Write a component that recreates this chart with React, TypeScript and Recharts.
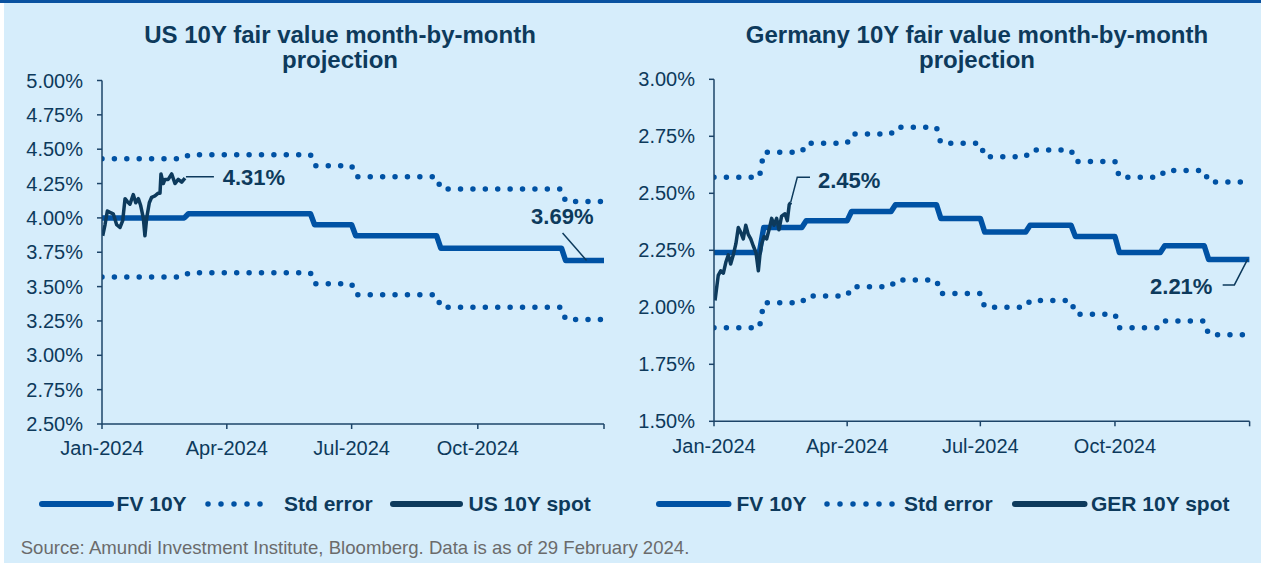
import React from 'react';
import { Line, LineChart, ReferenceDot, XAxis, YAxis } from 'recharts';

// day-of-year where each month of 2024 starts (last entry = 1 Jan 2025)
const MONTH_START_DAYS = [0, 31, 60, 91, 121, 152, 182, 213, 244, 274, 305, 335, 366];
const X_TICKS = [0, 91, 182, 274, 366];
const X_TICK_LABELS = ['Jan-2024', 'Apr-2024', 'Jul-2024', 'Oct-2024', ''];

const US_Y_TICKS = [2.5, 2.75, 3, 3.25, 3.5, 3.75, 4, 4.25, 4.5, 4.75, 5];
const GER_Y_TICKS = [1.5, 1.75, 2, 2.25, 2.5, 2.75, 3];

// monthly fair value projections, Jan..Dec
const US_FV = [4.0, 4.0, 4.03, 4.03, 4.03, 3.95, 3.87, 3.87, 3.78, 3.78, 3.78, 3.69];
const US_STD_UPPER = [4.43, 4.43, 4.46, 4.46, 4.46, 4.38, 4.3, 4.3, 4.21, 4.21, 4.21, 4.12];
const US_STD_LOWER = [3.57, 3.57, 3.6, 3.6, 3.6, 3.52, 3.44, 3.44, 3.35, 3.35, 3.35, 3.26];

const GER_FV = [2.24, 2.35, 2.38, 2.42, 2.45, 2.39, 2.33, 2.36, 2.31, 2.24, 2.27, 2.21];
const GER_STD_UPPER = [2.57, 2.68, 2.72, 2.76, 2.79, 2.72, 2.66, 2.69, 2.64, 2.57, 2.6, 2.55];
const GER_STD_LOWER = [1.91, 2.02, 2.05, 2.09, 2.12, 2.06, 2.0, 2.03, 1.97, 1.91, 1.94, 1.88];

// spot yields, Jan - Feb 2024
const US_SPOT_DAYS = [0.5, 2.2, 3.9, 5.8, 8.2, 10.7, 13.1, 15.1, 16.8, 18.4, 20.4, 22.8, 24.6, 26.5, 28.2, 30.1,
  31.3, 32.6, 34.5, 36.2, 38.6, 41, 42.3, 43, 44.7, 45.9, 48.3, 50.8, 53.2, 55.6, 58.1, 60.5];
const US_SPOT = [3.87, 3.95, 4.05, 4.04, 4.03, 3.95, 3.93, 3.98, 4.14, 4.12, 4.1, 4.17, 4.11, 4.14, 4.09, 4.0,
  3.87, 4.0, 4.11, 4.15, 4.16, 4.18, 4.18, 4.32, 4.25, 4.28, 4.28, 4.32, 4.25, 4.28, 4.26, 4.29];

const GER_SPOT_DAYS = [0.7, 2.9, 4.6, 6.4, 8.2, 9.8, 11.4, 13.2, 15, 16.6, 18.2, 20, 21.7, 23.4, 25.1, 26.8,
  28.7, 30.3, 31.4, 32.6, 34.2, 36, 37.6, 39.4, 41, 42.8, 44.4, 46.2, 48.5, 50.1, 51.4, 52.4];
const GER_SPOT = [2.03, 2.14, 2.16, 2.15, 2.2, 2.23, 2.19, 2.23, 2.28, 2.35, 2.33, 2.3, 2.36, 2.32, 2.3, 2.27,
  2.24, 2.16, 2.23, 2.28, 2.31, 2.3, 2.34, 2.39, 2.36, 2.39, 2.34, 2.4, 2.41, 2.38, 2.45, 2.46];

// callouts (data space)
const US_LEADERS = [
  [{ day: 61.2, v: 4.3 }, { day: 81.6, v: 4.3 }],
  [{ day: 335.8, v: 3.89 }, { day: 353.3, v: 3.69 }],
];
const US_CALLOUTS = [
  { day: 88, v: 4.293, text: '4.31%', anchor: 'start' },
  { day: 335.6, v: 4.007, text: '3.69%', anchor: 'middle' },
];
const GER_LEADERS = [
  [{ day: 52.4, v: 2.46 }, { day: 56.9, v: 2.57 }, { day: 65.6, v: 2.57 }],
  [{ day: 364.7, v: 2.211 }, { day: 355.6, v: 2.098 }, { day: 347.6, v: 2.098 }],
];
const GER_CALLOUTS = [
  { day: 71, v: 2.558, text: '2.45%', anchor: 'start' },
  { day: 340.6, v: 2.093, text: '2.21%', anchor: 'end' },
];

const FONT = '"Liberation Sans", Arial, sans-serif';
const NAVY = '#0d3a5c';
const BLUE = '#0052a4';
const AXIS = '#1d4468';
const BG = '#d6edfb';

const RAMP_DAYS = 3;
const monthlySteps = (values: number[]) =>
  values.flatMap((v, i) => [
    { day: i === 0 ? 0 : MONTH_START_DAYS[i] + RAMP_DAYS, v },
    { day: MONTH_START_DAYS[i + 1], v },
  ]);

const toPoints = (days: number[], values: number[]) => days.map((day, i) => ({ day, v: values[i] }));

type Callout = { day: number; v: number; text: string; anchor: string };

type PanelProps = {
  width: number;
  yAxisWidth: number;
  margin: { top: number; right: number; bottom: number; left: number };
  yDomain: [number, number];
  yTicks: number[];
  fv: number[];
  upper: number[];
  lower: number[];
  spotDays: number[];
  spot: number[];
  leaders: { day: number; v: number }[][];
  callouts: Callout[];
};

function YieldPanel({ width, yAxisWidth, margin, yDomain, yTicks, fv, upper, lower, spotDays, spot, leaders, callouts }: PanelProps) {
  const axisLine = { stroke: AXIS, strokeWidth: 1.5 };
  const tick = { fill: NAVY, fontSize: 20, fontFamily: FONT };
  return (
    <LineChart width={width} height={480} margin={margin}>
      <XAxis
        type='number'
        dataKey='day'
        domain={[0, 366]}
        ticks={X_TICKS}
        interval={0}
        allowDataOverflow
        tickFormatter={(d) => X_TICK_LABELS[X_TICKS.indexOf(d)] ?? ''}
        height={50}
        tickSize={5}
        tickMargin={12}
        axisLine={axisLine}
        tickLine={axisLine}
        tick={tick}
      />
      <YAxis
        type='number'
        domain={yDomain}
        ticks={yTicks}
        interval={0}
        allowDataOverflow
        tickFormatter={(v) => `${Number(v).toFixed(2)}%`}
        width={yAxisWidth}
        tickSize={5}
        tickMargin={14}
        axisLine={axisLine}
        tickLine={axisLine}
        tick={tick}
      />

      {/* std error bands, drawn as round dots */}
      {[upper, lower].map((band, i) => (
        <Line
          key={`std-${i}`}
          data={monthlySteps(band)}
          dataKey='v'
          stroke={BLUE}
          strokeWidth={5.5}
          strokeDasharray='0 12.4'
          strokeLinecap='round'
          dot={false}
          activeDot={false}
          isAnimationActive={false}
        />
      ))}

      <Line
        data={monthlySteps(fv)}
        dataKey='v'
        stroke={BLUE}
        strokeWidth={5.5}
        strokeLinejoin='round'
        dot={false}
        activeDot={false}
        isAnimationActive={false}
      />

      <Line
        data={toPoints(spotDays, spot)}
        dataKey='v'
        stroke={NAVY}
        strokeWidth={3.5}
        strokeLinejoin='round'
        dot={false}
        activeDot={false}
        isAnimationActive={false}
      />

      {leaders.map((pts, i) => (
        <Line
          key={`leader-${i}`}
          data={pts}
          dataKey='v'
          stroke={NAVY}
          strokeWidth={1.5}
          dot={false}
          activeDot={false}
          isAnimationActive={false}
        />
      ))}

      {callouts.map((c) => (
        <ReferenceDot
          key={c.text}
          x={c.day}
          y={c.v}
          r={0}
          shape={(p: any) => (
            <text
              x={p.cx}
              y={p.cy}
              textAnchor={c.anchor as any}
              dominantBaseline='central'
              fill={NAVY}
              fontSize={22}
              fontWeight='bold'
              fontFamily={FONT}
            >
              {c.text}
            </text>
          )}
        />
      ))}
    </LineChart>
  );
}

type LegendItem = { kind: 'line' | 'dots' | 'spot'; x: number; w: number; textX: number; label: string };

const US_LEGEND: LegendItem[] = [
  { kind: 'line', x: 41.5, w: 69, textX: 116.6, label: 'FV 10Y' },
  { kind: 'dots', x: 207.6, w: 65, textX: 284, label: 'Std error' },
  { kind: 'spot', x: 393.4, w: 67, textX: 468.6, label: 'US 10Y spot' },
];
const GER_LEGEND: LegendItem[] = [
  { kind: 'line', x: 658.8, w: 69.5, textX: 736.5, label: 'FV 10Y' },
  { kind: 'dots', x: 826.5, w: 65.5, textX: 904, label: 'Std error' },
  { kind: 'spot', x: 1014.5, w: 69.5, textX: 1091, label: 'GER 10Y spot' },
];

function LegendRow({ items }: { items: LegendItem[] }) {
  return (
    <>
      {items.map((it) => (
        <React.Fragment key={it.label}>
          <svg style={{ position: 'absolute', left: it.x - 4, top: 496 }} width={it.w + 8} height={16}>
            <line
              x1={4}
              x2={it.w + 4}
              y1={8}
              y2={8}
              stroke={it.kind === 'spot' ? NAVY : BLUE}
              strokeWidth={it.kind === 'dots' ? 5.5 : 6}
              strokeLinecap='round'
              strokeDasharray={it.kind === 'dots' ? '0 13' : undefined}
            />
          </svg>
          <div
            style={{
              position: 'absolute',
              left: it.textX,
              top: 492,
              lineHeight: '24px',
              fontSize: 21,
              fontWeight: 'bold',
              color: NAVY,
              fontFamily: FONT,
              whiteSpace: 'nowrap',
            }}
          >
            {it.label}
          </div>
        </React.Fragment>
      ))}
    </>
  );
}

const titleStyle: React.CSSProperties = {
  position: 'absolute',
  top: 22,
  width: 500,
  textAlign: 'center',
  fontFamily: FONT,
  fontSize: 24,
  lineHeight: '25px',
  fontWeight: 'bold',
  color: NAVY,
};

export default function App() {
  return (
    <div style={{ position: 'absolute', left: 0, top: 0, width: 1261, height: 564, background: '#ffffff', overflow: 'hidden' }}>
      <div style={{ position: 'absolute', left: 4, top: 0, width: 1257, height: 563, background: BG }} />
      <div style={{ position: 'absolute', left: 0, top: 0, width: 1261, height: 3, background: '#0a52a0' }} />

      <div style={{ ...titleStyle, left: 90 }}>
        US 10Y fair value month-by-month
        <br />
        projection
      </div>
      <div style={{ ...titleStyle, left: 727 }}>
        Germany 10Y fair value month-by-month
        <br />
        projection
      </div>

      <div style={{ position: 'absolute', left: 0, top: 0 }}>
        <YieldPanel
          width={620}
          yAxisWidth={102}
          margin={{ top: 80.5, right: 16, bottom: 6, left: 0 }}
          yDomain={[2.5, 5]}
          yTicks={US_Y_TICKS}
          fv={US_FV}
          upper={US_STD_UPPER}
          lower={US_STD_LOWER}
          spotDays={US_SPOT_DAYS}
          spot={US_SPOT}
          leaders={US_LEADERS}
          callouts={US_CALLOUTS}
        />
      </div>
      <div style={{ position: 'absolute', left: 620, top: 0 }}>
        <YieldPanel
          width={641}
          yAxisWidth={94}
          margin={{ top: 79.3, right: 11.4, bottom: 8.7, left: 0 }}
          yDomain={[1.5, 3]}
          yTicks={GER_Y_TICKS}
          fv={GER_FV}
          upper={GER_STD_UPPER}
          lower={GER_STD_LOWER}
          spotDays={GER_SPOT_DAYS}
          spot={GER_SPOT}
          leaders={GER_LEADERS}
          callouts={GER_CALLOUTS}
        />
      </div>

      <LegendRow items={US_LEGEND} />
      <LegendRow items={GER_LEGEND} />

      <div
        style={{
          position: 'absolute',
          left: 20.7,
          top: 537,
          fontFamily: FONT,
          fontSize: 18.6,
          lineHeight: '22px',
          color: '#6b6b6b',
          whiteSpace: 'nowrap',
        }}
      >
        Source: Amundi Investment Institute, Bloomberg. Data is as of 29 February 2024.
      </div>
    </div>
  );
}
